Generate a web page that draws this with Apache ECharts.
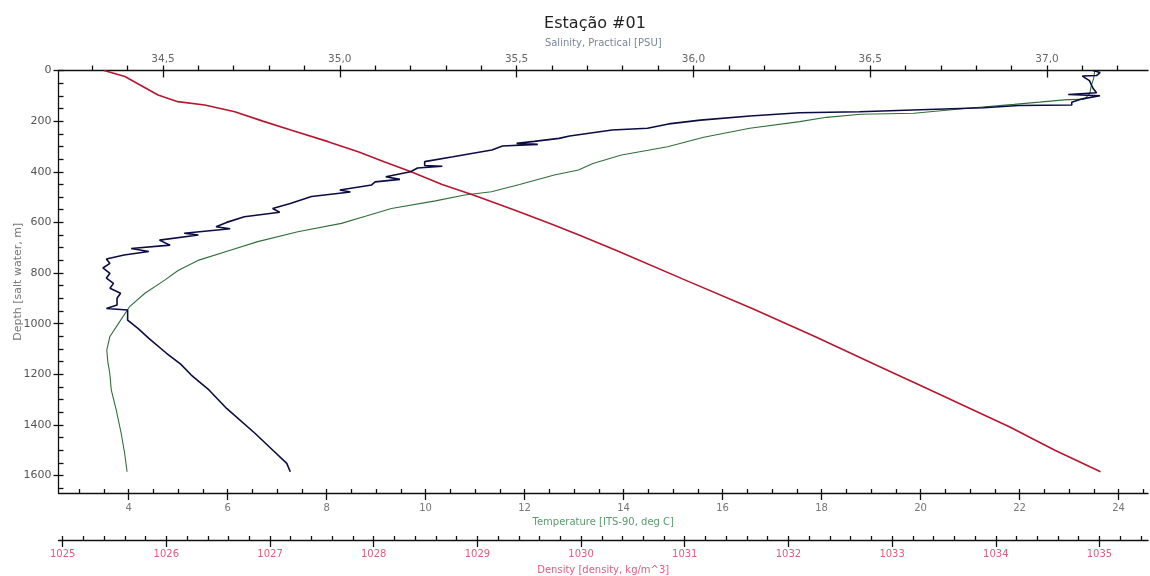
<!DOCTYPE html>
<html>
<head>
<meta charset="utf-8">
<script src="https://cdn.jsdelivr.net/npm/echarts@6/dist/echarts.min.js"></script>
<style>
  html, body { margin: 0; padding: 0; background: #fff; }
  #main { width: 1150px; height: 576px; }
</style>
</head>
<body>
<div id="main"></div>
<script>
// salinity profile (depth m, PSU)
var salDepth = [0, 8, 20, 22, 40, 70, 88, 95, 100, 112, 125, 136, 138, 147, 156, 163, 167, 180, 196, 211,
  228, 235, 259, 268, 280, 288, 292, 298, 314, 341, 360, 375, 378, 385, 400, 420, 430, 440, 452, 472,
  480, 498, 525, 545, 560, 578, 600, 617, 625, 643, 650, 670, 690, 703, 715, 729, 745, 762, 780, 801,
  820, 841, 860, 880, 900, 926, 940, 946, 986, 1020, 1058, 1117, 1160, 1203, 1262, 1335, 1433, 1499, 1552, 1585];
var salValue = [37.13, 37.15, 37.14, 37.10, 37.12, 37.13, 37.14, 37.06, 37.15, 37.10, 37.07, 37.07, 36.92, 36.82, 36.62, 36.47, 36.30, 36.16, 36.02, 35.93,
  35.87, 35.77, 35.65, 35.62, 35.55, 35.50, 35.56, 35.46, 35.43, 35.32, 35.24, 35.24, 35.29, 35.22, 35.20, 35.13, 35.17, 35.10, 35.09, 35.00,
  35.03, 34.92, 34.86, 34.81, 34.83, 34.73, 34.68, 34.65, 34.69, 34.56, 34.60, 34.49, 34.52, 34.41, 34.46, 34.39, 34.34, 34.35, 34.33, 34.35,
  34.34, 34.36, 34.35, 34.38, 34.37, 34.37, 34.34, 34.40, 34.40, 34.43, 34.46, 34.51, 34.55, 34.58, 34.63, 34.68, 34.76, 34.81, 34.85, 34.86];

// temperature profile (depth m, deg C)
var tempDepth = [0, 30, 60, 90, 105, 113, 116, 125, 134, 150, 169, 173, 185, 202, 228, 264, 301, 334, 367, 393,
  413, 450, 479, 492, 515, 545, 575, 604, 637, 676, 709, 749, 790, 828, 880, 933, 992, 1052, 1104, 1150,
  1196, 1262, 1341, 1433, 1512, 1585];
var tempValue = [23.52, 23.50, 23.45, 23.42, 23.35, 23.30, 22.90, 22.40, 21.89, 20.90, 19.87, 18.79, 18.10, 17.56, 16.55, 15.62, 14.89, 13.96, 13.38, 13.09,
  12.60, 11.90, 11.33, 10.79, 10.20, 9.31, 8.80, 8.30, 7.42, 6.61, 6.07, 5.42, 5.00, 4.73, 4.33, 4.02, 3.82, 3.62, 3.56, 3.58,
  3.62, 3.65, 3.75, 3.85, 3.92, 3.97];

// density profile (depth m, kg/m^3)
var densDepth = [0, 24, 60, 97, 123, 136, 163, 200, 235, 281, 321, 360, 400, 450, 492, 550, 604, 650, 709, 834,
  940, 1052, 1164, 1249, 1407, 1500, 1585];
var densValue = [1025.40, 1025.60, 1025.76, 1025.92, 1026.11, 1026.37, 1026.66, 1026.93, 1027.20, 1027.56, 1027.85, 1028.10, 1028.36, 1028.66, 1028.96, 1029.35, 1029.70, 1029.98, 1030.33, 1031.04,
  1031.65, 1032.26, 1032.85, 1033.30, 1034.13, 1034.57, 1035.01];

// tick labels
var salTicks = [34.5, 35.0, 35.5, 36.0, 36.5, 37.0];
var tempTicks = [4, 6, 8, 10, 12, 14, 16, 18, 20, 22, 24];
var densTicks = [1025, 1026, 1027, 1028, 1029, 1030, 1031, 1032, 1033, 1034, 1035];
var depthTicks = [0, 200, 400, 600, 800, 1000, 1200, 1400, 1600];

function steps(from, to, step) {
  var out = [];
  for (var v = from; v <= to + 1e-9; v += step) out.push(Math.round(v * 1000) / 1000);
  return out;
}
function pairs(xs, ys) {
  return xs.map(function (d, i) { return [ys[i], d]; });
}

var chart = echarts.init(document.getElementById('main'));
var font = 'DejaVu Sans, Verdana, sans-serif';
var lineStyle = { color: '#111', width: 1.3 };

function xMain(pos, min, max, ticks, inside, len, fmt, labelColor, labelSize, name, nameColor, nameGap, margin, offset) {
  return {
    type: 'value', position: pos, min: min, max: max, offset: offset || 0,
    splitLine: { show: false },
    axisLine: { show: true, onZero: false, lineStyle: lineStyle },
    axisTick: { show: true, inside: inside, length: len, lineStyle: lineStyle, customValues: ticks },
    axisLabel: { show: true, customValues: ticks, formatter: fmt, color: labelColor, fontSize: labelSize, fontFamily: font, margin: margin },
    name: name, nameLocation: 'middle', nameGap: nameGap,
    nameTextStyle: { color: nameColor, fontSize: 10, fontFamily: font }
  };
}
function xMinor(pos, min, max, ticks, inside, len, offset) {
  return {
    type: 'value', position: pos, min: min, max: max, offset: offset || 0,
    splitLine: { show: false },
    axisLine: { show: false, onZero: false },
    axisTick: { show: true, inside: inside, length: len, lineStyle: lineStyle, customValues: ticks },
    axisLabel: { show: false }
  };
}

var salMin = 34.2045, salMax = 37.2856;
var tempMin = 2.584, tempMax = 24.596;
var densMin = 1024.96, densMax = 1035.468;
var depthMax = 1669;

chart.setOption({
  animation: false,
  backgroundColor: '#fff',
  title: {
    text: 'Estação #01', left: 590, top: 11, textAlign: 'center',
    textStyle: { fontSize: 16, fontWeight: 'normal', color: '#222', fontFamily: font }
  },
  grid: { left: 58.5, right: 2, top: 70.5, bottom: 83, containLabel: false, outerBoundsMode: 'none' },
  xAxis: [
    xMain('top', salMin, salMax, salTicks, true, 7, function (v) { return v.toFixed(1).replace('.', ','); },
      '#666', 10.5, 'Salinity, Practical [PSU]', '#7a8699', 22, 6),
    xMinor('top', salMin, salMax, steps(34.3, 37.2, 0.1), false, 5),
    xMain('bottom', tempMin, tempMax, tempTicks, false, 7, function (v) { return String(v); },
      '#777', 10, 'Temperature [ITS-90, deg C]', '#5a9a70', 24, 10),
    xMinor('bottom', tempMin, tempMax, steps(3, 24.5, 0.5), true, 4),
    xMain('bottom', densMin, densMax, [densMin].concat(densTicks), false, 7, function (v) { return String(Math.round(v)); },
      '#d9607f', 10, 'Density [density, kg/m^3]', '#d9607f', 25, 9, 47),
    xMinor('bottom', densMin, densMax, steps(1025, 1035.4, 0.2), true, 4, 47)
  ],
  yAxis: [
    {
      type: 'value', position: 'left', inverse: true, min: 0, max: depthMax,
      splitLine: { show: false },
      axisLine: { show: true, onZero: false, lineStyle: lineStyle },
      axisTick: { show: true, inside: false, length: 5, lineStyle: lineStyle, customValues: depthTicks },
      axisLabel: { show: true, customValues: depthTicks, formatter: function (v) { return String(v); },
        color: '#555', fontSize: 11, fontFamily: font, margin: 7 },
      name: 'Depth [salt water, m]', nameLocation: 'middle', nameGap: 35, nameRotate: 90, nameMoveOverlap: false,
      nameTextStyle: { color: '#777', fontSize: 11, fontFamily: font }
    },
    {
      type: 'value', position: 'left', inverse: true, min: 0, max: depthMax,
      splitLine: { show: false },
      axisLine: { show: false, onZero: false },
      axisTick: { show: true, inside: true, length: 5, lineStyle: lineStyle, customValues: steps(0, 1650, 50) },
      axisLabel: { show: false }
    }
  ],
  series: [
    {
      name: 'Temperature', type: 'line', xAxisIndex: 2, yAxisIndex: 0,
      data: pairs(tempDepth, tempValue), showSymbol: false, symbol: 'none',
      lineStyle: { color: '#2f6e3a', width: 1.1 }
    },
    {
      name: 'Density', type: 'line', xAxisIndex: 4, yAxisIndex: 0,
      data: pairs(densDepth, densValue), showSymbol: false, symbol: 'none',
      lineStyle: { color: '#b8162f', width: 1.6 }
    },
    {
      name: 'Salinity', type: 'line', xAxisIndex: 0, yAxisIndex: 0,
      data: pairs(salDepth, salValue), showSymbol: false, symbol: 'none',
      lineStyle: { color: '#0c0c45', width: 1.6 }
    }
  ]
});
</script>
</body>
</html>
